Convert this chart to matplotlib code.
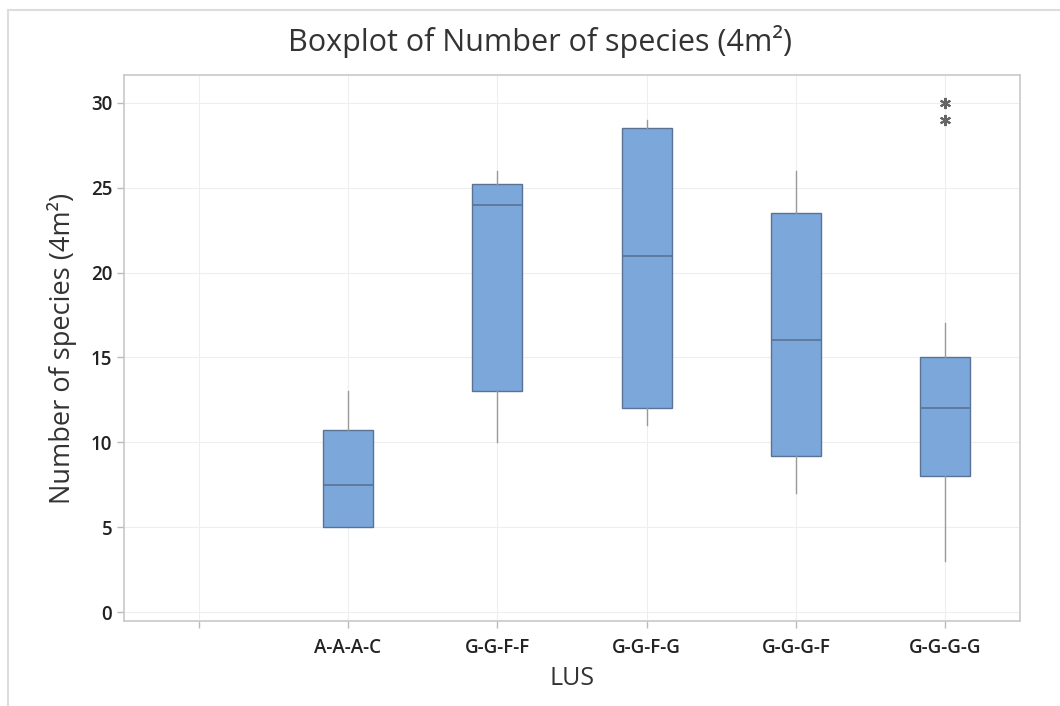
import matplotlib
matplotlib.use('Agg')
import matplotlib.pyplot as plt
from matplotlib.lines import Line2D

# categories (first slot is empty in the original chart)
categories = ["", "A-A-A-C", "G-G-F-F", "G-G-F-G", "G-G-G-F", "G-G-G-G"]

# box statistics (one per non-empty category)
q1 = [5, 13, 12, 9.2, 8]
med = [7.5, 24, 21, 16, 12]
q3 = [10.7, 25.2, 28.5, 23.5, 15]
whislo = [5, 10, 11, 7, 3]
whishi = [13, 26, 29, 26, 17]
fliers = [[], [], [], [], [29, 30]]

yticks = [0, 5, 10, 15, 20, 25, 30]

plt.rcParams['font.family'] = ['Open Sans', 'DejaVu Sans']

fig = plt.figure(figsize=(10.6, 7.06), dpi=100)
ax = fig.add_axes([124 / 1060, 1 - 621 / 706, 896 / 1060, 546 / 706])

stats = []
for i in range(len(q1)):
    stats.append({"q1": q1[i], "med": med[i], "q3": q3[i],
                  "whislo": whislo[i], "whishi": whishi[i], "fliers": fliers[i]})

ax.bxp(stats, positions=range(1, len(categories)), widths=0.336,
       patch_artist=True, showcaps=False,
       boxprops=dict(facecolor="#7ba7da", edgecolor="#5a7394", linewidth=1.0),
       medianprops=dict(color="#5a7394", linewidth=1.2),
       whiskerprops=dict(color="#999999", linewidth=1.0),
       flierprops=dict(marker=(6, 2, 0), markersize=8, markeredgecolor="#666666",
                       markeredgewidth=1.5, linestyle="none"),
       zorder=3)

ax.set_xlim(-0.5, len(categories) - 0.5)
ax.set_ylim(-0.53, 31.64)
ax.set_xticks(range(len(categories)))
ax.set_xticklabels(categories)
ax.set_yticks(yticks)
ax.tick_params(axis='both', labelsize=13.5, colors="#bbbbbb", labelcolor="#222222",
               length=5, width=1)
ax.tick_params(axis='x', pad=7)
for lab in ax.get_xticklabels() + ax.get_yticklabels():
    lab.set_fontweight('semibold')

ax.grid(True, color="#eeeeee", linewidth=0.8, zorder=0)
ax.set_axisbelow(True)
for s in ax.spines.values():
    s.set_color("#c8c8c8")
    s.set_linewidth(1.2)

ax.set_xlabel("LUS", fontsize=18, color="#333333", labelpad=6)
ax.set_ylabel("Number of species (4m²)", fontsize=19.5, color="#333333", labelpad=10)
fig.text(540 / 1060, 1 - 42 / 706, "Boxplot of Number of species (4m²)",
         fontsize=22, color="#333333", ha="center", va="center")

# partial window frame from the screenshot
fig.add_artist(Line2D([8 / 1060, 1], [1 - 9.5 / 706] * 2, color="#dddddd", linewidth=1.5))
fig.add_artist(Line2D([8 / 1060] * 2, [0, 1 - 9.5 / 706], color="#dddddd", linewidth=1.5))

fig.savefig("out.png", dpi=100, facecolor="white")
